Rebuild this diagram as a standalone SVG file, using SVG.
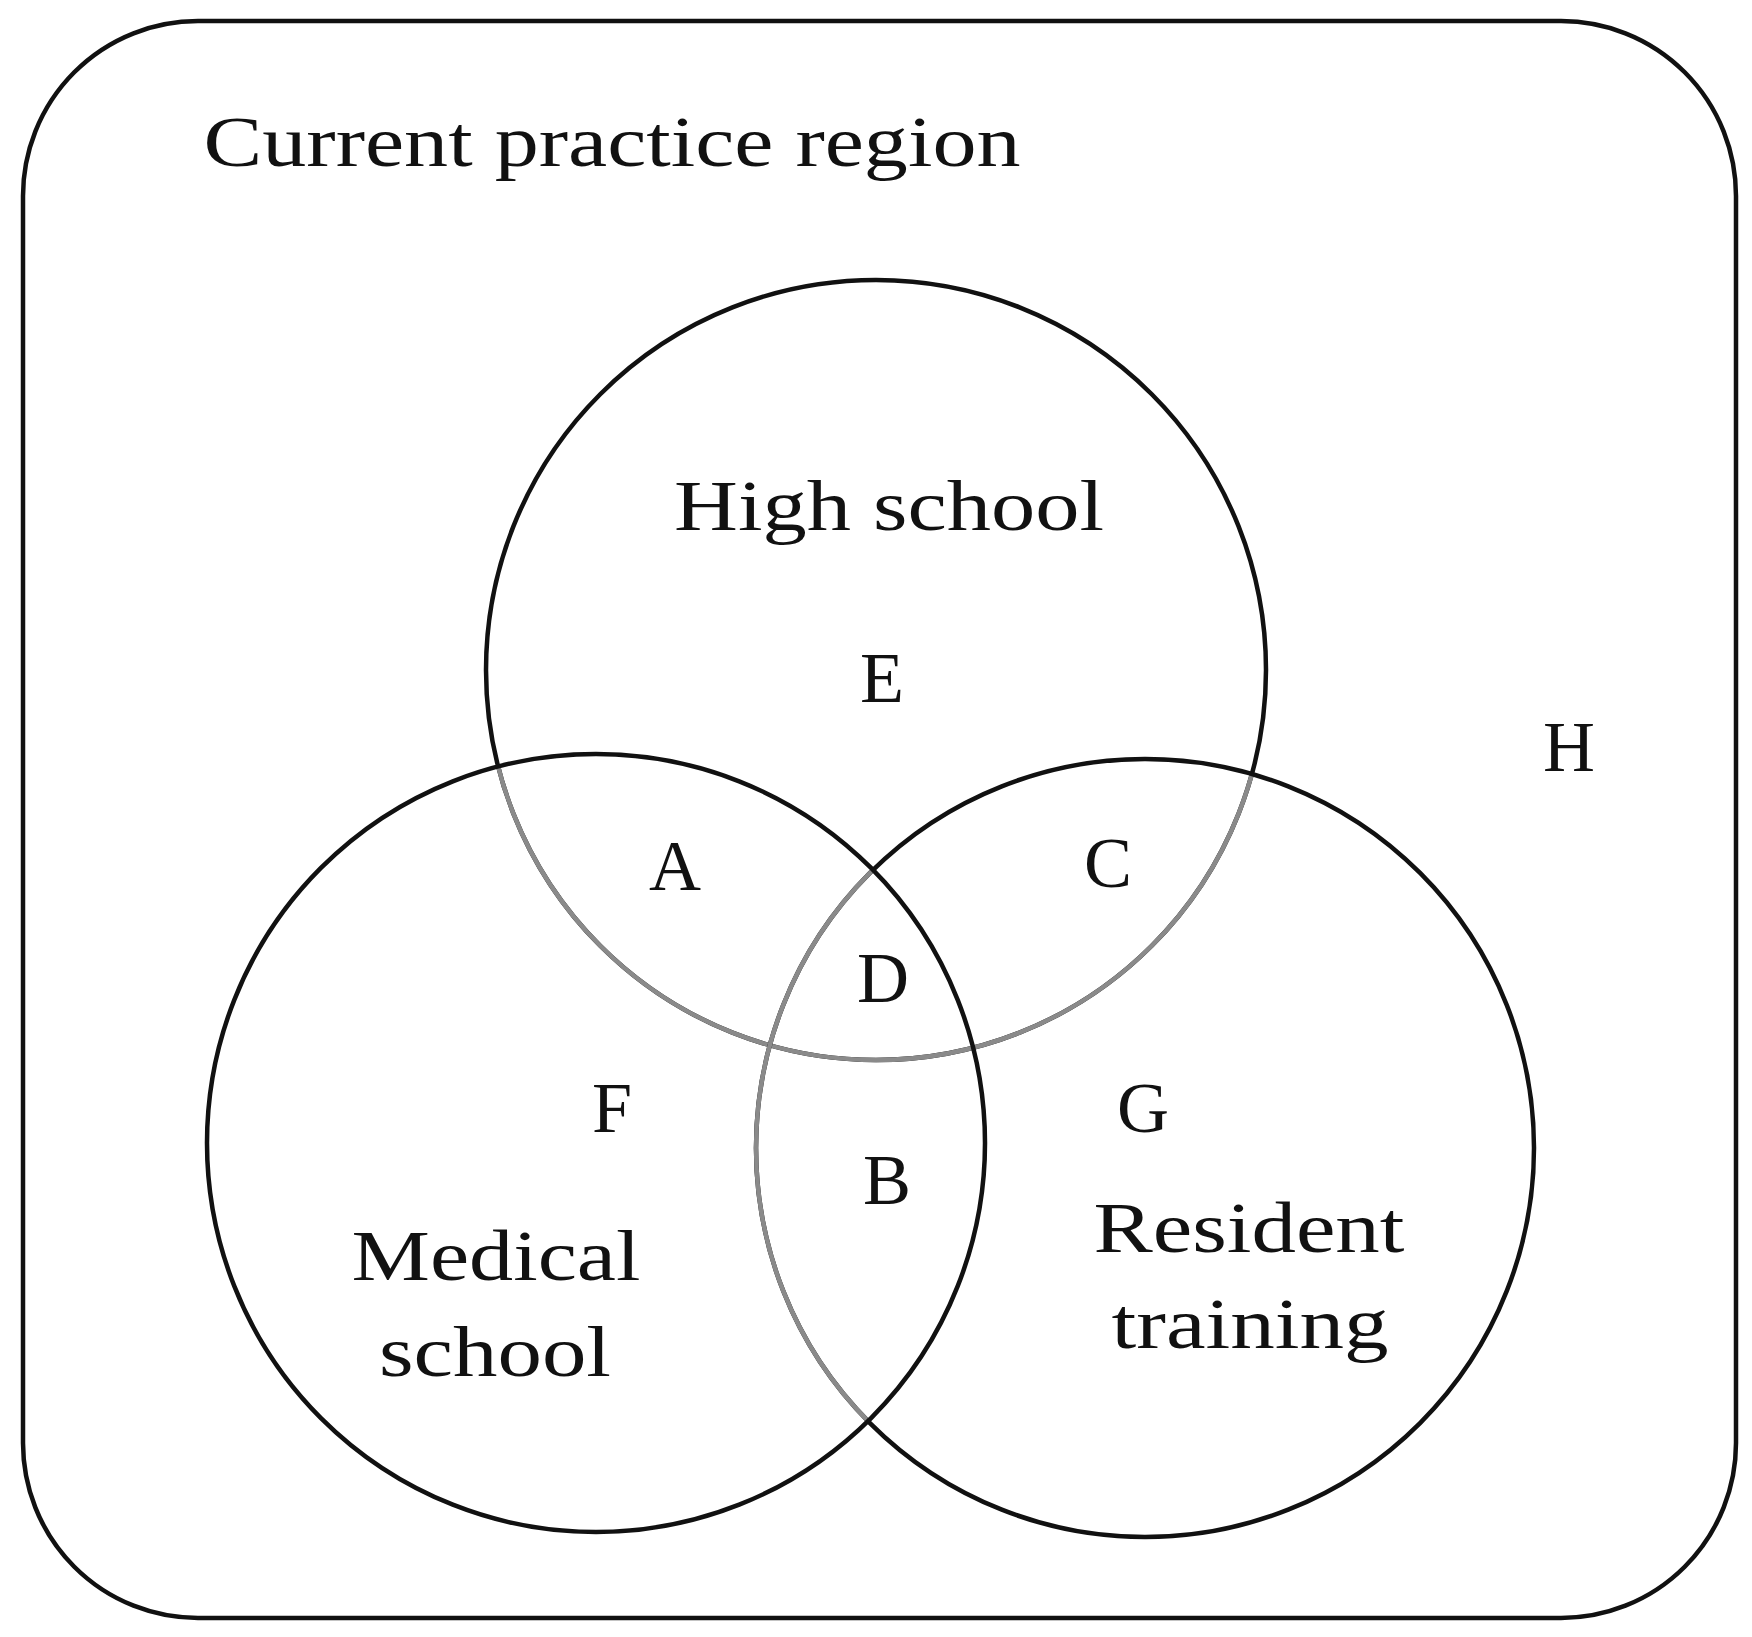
<svg xmlns="http://www.w3.org/2000/svg" width="1752" height="1637" viewBox="0 0 1752 1637">
<style>
.t{font-family:"Liberation Serif","DejaVu Serif",serif;font-size:72px;fill:#111;text-anchor:middle}
.c{fill:none;stroke:#111;stroke-width:4.5}
.g{fill:none;stroke:#8a8a8a;stroke-width:4.5}
</style>
<defs>
<clipPath id="lr"><circle cx="596" cy="1143" r="389"/><circle cx="1145" cy="1148" r="390"/></clipPath>
<clipPath id="l"><circle cx="596" cy="1143" r="389"/></clipPath>
</defs>
<rect width="1752" height="1637" fill="#fff"/>
<g id="region"><rect x="23" y="21" width="1713" height="1597" rx="175" class="c"/>
<text class="t" x="612" y="166" textLength="817" lengthAdjust="spacingAndGlyphs">Current practice region</text>
<text class="t" x="1569" y="771">H</text></g>
<g id="high"><circle class="c" cx="876" cy="670" r="390"/><circle class="g" cx="876" cy="670" r="390" clip-path="url(#lr)"/>
<text class="t" x="889" y="530" textLength="430" lengthAdjust="spacingAndGlyphs">High school</text></g>
<g id="resident"><circle class="c" cx="1145" cy="1148" r="389"/><circle class="g" cx="1145" cy="1148" r="389" clip-path="url(#l)"/>
<text class="t" x="1249" y="1252" textLength="311" lengthAdjust="spacingAndGlyphs">Resident</text><text class="t" x="1250" y="1348" textLength="277" lengthAdjust="spacingAndGlyphs">training</text></g>
<g id="medical"><circle class="c" cx="596" cy="1143" r="389"/>
<text class="t" x="496" y="1280" textLength="289" lengthAdjust="spacingAndGlyphs">Medical</text><text class="t" x="495" y="1376" textLength="232" lengthAdjust="spacingAndGlyphs">school</text></g>
<g id="labels">
<text class="t" x="882" y="702">E</text><text class="t" x="675" y="890">A</text><text class="t" x="1108" y="887">C</text>
<text class="t" x="883" y="1002">D</text><text class="t" x="612" y="1132">F</text><text class="t" x="1143" y="1132">G</text><text class="t" x="887" y="1204">B</text>
</g>
</svg>
